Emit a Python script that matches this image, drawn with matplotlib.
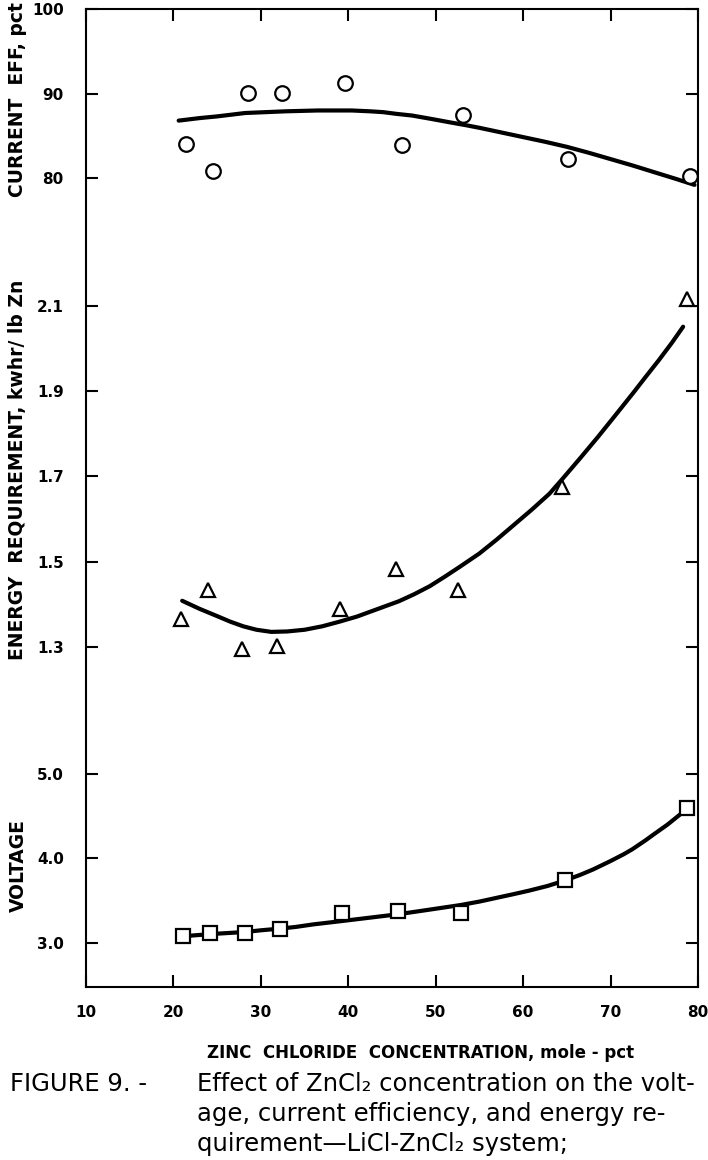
import matplotlib
matplotlib.use('Agg')
import matplotlib.pyplot as plt

# --- data (x = ZnCl2 concentration, mole pct) ---
eff_x = [21.4, 24.5, 28.5, 32.4, 39.6, 46.1, 53.1, 65.1, 79.1]
eff_y = [84.0, 80.9, 90.1, 90.1, 91.2, 83.9, 87.5, 82.3, 80.3]
eff_fit_x = [20.6, 23.0, 25.0, 28.2, 30.5, 32.8, 36.5, 40.4, 42.5, 44.0, 45.5, 47.3, 49.5,
             51.6, 53.5, 55.0, 57.5, 60.0, 62.5, 65.0, 67.5, 70.0, 72.5, 75.0, 77.5, 79.6]
eff_fit_y = [86.8, 87.1, 87.3, 87.7, 87.8, 87.9, 88.0, 88.0, 87.9, 87.8, 87.6, 87.4, 87.0,
             86.6, 86.25, 85.95, 85.4, 84.85, 84.3, 83.7, 83.0, 82.25, 81.5, 80.7, 79.9, 79.2]

energy_x = [20.9, 24.0, 27.9, 31.9, 39.0, 45.5, 52.6, 64.5, 78.7]
energy_y = [1.366, 1.434, 1.295, 1.302, 1.389, 1.483, 1.434, 1.676, 2.115]
energy_fit_x = [21.0, 23.0, 25.0, 26.5, 28.0, 29.5, 31.2, 33.0, 35.0, 37.0, 39.0, 41.0, 43.0,
                45.8, 47.5, 49.3, 51.0, 52.7, 55.0, 57.0, 59.0, 61.0, 63.0, 64.5, 66.5,
                68.5, 70.5, 72.6, 74.0, 75.5, 77.0, 78.3]
energy_fit_y = [1.408, 1.389, 1.372, 1.359, 1.348, 1.340, 1.335, 1.336, 1.340, 1.348, 1.359,
                1.371, 1.386, 1.407, 1.423, 1.442, 1.464, 1.487, 1.519, 1.552, 1.587, 1.622,
                1.659, 1.694, 1.742, 1.791, 1.842, 1.896, 1.933, 1.972, 2.013, 2.051]

volt_x = [21.1, 24.2, 28.2, 32.2, 39.3, 45.7, 52.9, 64.8, 78.7]
volt_y = [3.08, 3.12, 3.12, 3.16, 3.36, 3.38, 3.36, 3.75, 4.60]
volt_fit_x = [21.1, 23.0, 25.0, 28.2, 30.0, 32.2, 34.0, 36.0, 39.3, 42.5, 45.7, 49.0, 52.9,
              55.0, 57.0, 59.0, 60.7, 62.8, 64.8, 66.5, 68.0, 70.0, 71.5, 72.5, 74.0, 75.0,
              76.5, 78.3]
volt_fit_y = [3.08, 3.095, 3.11, 3.13, 3.15, 3.17, 3.19, 3.22, 3.26, 3.30, 3.34, 3.39, 3.45,
              3.49, 3.535, 3.58, 3.62, 3.675, 3.74, 3.805, 3.87, 3.97, 4.05, 4.11, 4.215, 4.29,
              4.40, 4.55]

x_ticks = [10, 20, 30, 40, 50, 60, 70, 80]
eff_ticks = [80, 90, 100]
eff_labels = ['80', '90', '100']
energy_ticks = [1.3, 1.5, 1.7, 1.9, 2.1]
energy_labels = ['1.3', '1.5', '1.7', '1.9', '2.1']
volt_ticks = [3.0, 4.0, 5.0]
volt_labels = ['3.0', '4.0', '5.0']

W, H = 708, 1160


def fx(p):
    return p / W


def fy(p):
    return 1 - p / H


def box(left, top, right, bottom):
    return [fx(left), fy(bottom), fx(right) - fx(left), fy(top) - fy(bottom)]


LW = 1.5
TICK = dict(direction='in', length=8.5, width=LW, labelsize=11, colors='black')

fig = plt.figure(figsize=(W / 100, H / 100), dpi=100)

# outer frame carries the x axis
frame = fig.add_axes(box(86, 9, 698, 987))
frame.set_xlim(10, 80)
frame.set_ylim(0, 1)
frame.set_yticks([])
frame.set_xticks(x_ticks)
frame.tick_params(axis='x', top=True, pad=13, **TICK)
for lab in frame.get_xticklabels():
    lab.set_fontweight('bold')
for s in frame.spines.values():
    s.set_linewidth(LW)


def panel(top, bottom, ylim, ticks, labels):
    ax = fig.add_axes(box(86, top, 698, bottom), sharex=frame)
    ax.patch.set_alpha(0)
    for s in ax.spines.values():
        s.set_visible(False)
    ax.xaxis.set_visible(False)
    ax.set_ylim(*ylim)
    ax.set_yticks(ticks)
    ax.set_yticklabels(labels, fontweight='bold')
    ax.tick_params(axis='y', right=True, pad=16, **TICK)
    return ax


ax1 = panel(9, 250, (71.5, 100), eff_ticks, eff_labels)
ax2 = panel(250, 715, (1.140, 2.231), energy_ticks, energy_labels)
ax3 = panel(715, 987, (2.479, 5.698), volt_ticks, volt_labels)

mk = dict(ls='none', mfc='white', mec='black', mew=1.6, zorder=3)
ax1.plot(eff_fit_x, eff_fit_y, color='black', lw=3, solid_capstyle='round')
ax1.plot(eff_x, eff_y, marker='o', ms=10.5, **mk)

ax2.plot(energy_fit_x, energy_fit_y, color='black', lw=3, solid_capstyle='round')
ax2.plot(energy_x, energy_y, marker='^', ms=10.5, **mk)

ax3.plot(volt_fit_x, volt_fit_y, color='black', lw=3, solid_capstyle='round')
ax3.plot(volt_x, volt_y, marker='s', ms=10, **mk)

# axis titles
lab = dict(rotation=90, ha='center', va='center', fontsize=13.5, fontweight='bold')
fig.text(fx(18), fy(100), 'CURRENT  EFF, pct', **lab)
fig.text(fx(18), fy(470), 'ENERGY  REQUIREMENT, kwhr/ lb Zn', **lab)
fig.text(fx(18), fy(866), 'VOLTAGE', **lab)
fig.text(fx(421), fy(1053), 'ZINC  CHLORIDE  CONCENTRATION, mole - pct',
         ha='center', va='center', fontsize=12, fontweight='bold')

# caption
cap = dict(va='center', fontsize=17.5)
fig.text(fx(10), fy(1084), 'FIGURE 9. -', **cap)
fig.text(fx(197), fy(1084), 'Effect of ZnCl\u2082 concentration on the volt-', **cap)
fig.text(fx(197), fy(1114), 'age, current efficiency, and energy re-', **cap)
fig.text(fx(197), fy(1144), 'quirement\u2014LiCl-ZnCl\u2082 system;', **cap)

fig.savefig('out.png', dpi=100)
